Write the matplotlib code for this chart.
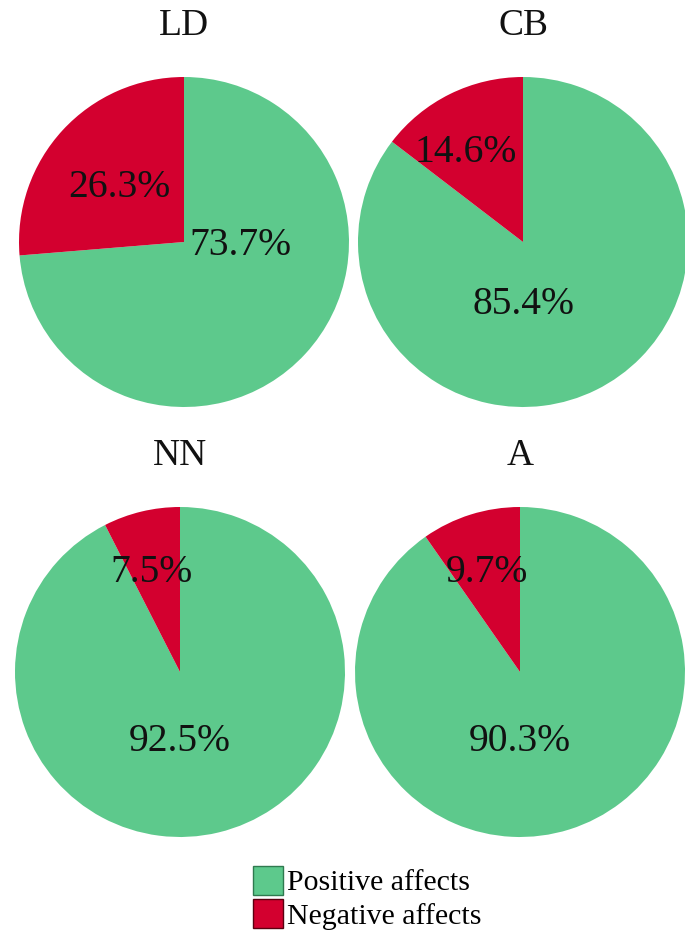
import matplotlib
matplotlib.use("Agg")
import matplotlib.pyplot as plt
from matplotlib.patches import Patch

plt.rcParams['font.family'] = ['Liberation Serif', 'DejaVu Serif']

titles = ["LD", "CB", "NN", "A"]
negative = [26.3, 14.6, 7.5, 9.7]
positive = [73.7, 85.4, 92.5, 90.3]
legend_labels = ["Positive affects", "Negative affects"]

green = "#5DC98C"
red = "#D3002F"

W, H = 685, 932
fig = plt.figure(figsize=(W / 100, H / 100), dpi=100)

centers = [(184, 242), (523, 242), (180, 672), (520, 672)]
R = 165
# label positions (relative to radius) for negative, positive
neg_pos = [(-0.39, 0.33), (-0.35, 0.545), (-0.17, 0.60), (-0.20, 0.60)]
pos_pos = [(0.345, -0.02), (0.0, -0.38), (0.0, -0.42), (0.0, -0.42)]
title_y = [26, 26, 456, 456]

for i in range(4):
    cx, cy = centers[i]
    ax = fig.add_axes([(cx - R) / W, 1 - (cy + R) / H, 2 * R / W, 2 * R / H])
    ax.pie([positive[i], negative[i]], colors=[green, red], startangle=90,
           counterclock=False, radius=1.0,
           wedgeprops=dict(linewidth=0))
    ax.set_xlim(-1, 1)
    ax.set_ylim(-1, 1)
    ax.set_aspect('equal')
    ax.axis('off')
    ax.text(*neg_pos[i], f"{negative[i]:.1f}%", ha='center', va='center',
            fontsize=28.5, color='#111111')
    ax.text(*pos_pos[i], f"{positive[i]:.1f}%", ha='center', va='center',
            fontsize=28.5, color='#111111')
    fig.text(cx / W, 1 - title_y[i] / H, titles[i], ha='center', va='center',
             fontsize=27, color='#111111')

handles = [Patch(facecolor=green, edgecolor="#2f7a4f", linewidth=1.0),
           Patch(facecolor=red, edgecolor="#5a0010", linewidth=1.0)]
fig.legend(handles, legend_labels, loc='upper left',
           bbox_to_anchor=(253 / W, 1 - 866 / H), frameon=False,
           fontsize=21.5, handlelength=1.0, handleheight=1.1,
           handletextpad=0.15, labelspacing=0.1, borderpad=0, borderaxespad=0)

fig.savefig("out.png", dpi=100)
